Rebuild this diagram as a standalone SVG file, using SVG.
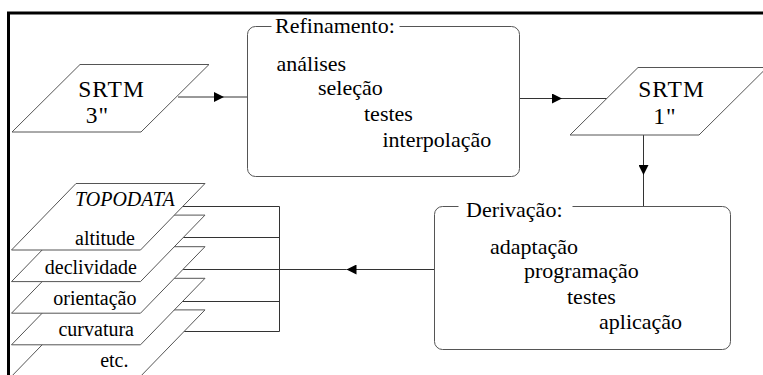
<svg xmlns="http://www.w3.org/2000/svg" width="763" height="375" viewBox="0 0 763 375">
  <style>
    .shape { fill: #ffffff; stroke: #555555; stroke-width: 1; }
    .box { fill: none; stroke: #555555; stroke-width: 1; }
    .conn { fill: none; stroke: #333333; stroke-width: 1; marker-mid: url(#arrow); }
    .line { fill: none; stroke: #333333; stroke-width: 1; }
    text { font-family: "Liberation Serif", "Times New Roman", serif; fill: #000000; }
    .big { font-size: 23.5px; letter-spacing: 1px; }
    .lbl { font-size: 22px; }
    .lay { font-size: 20px; }
    .frame { fill: none; stroke: #000000; stroke-width: 3; }
  </style>
  <defs>
    <marker id="arrow" viewBox="0 0 10 10" refX="10" refY="5" markerWidth="11" markerHeight="10" markerUnits="userSpaceOnUse" orient="auto">
      <path d="M0,0 L10,5 L0,10 z" fill="#000000"/>
    </marker>
  </defs>
  <rect x="0" y="0" width="763" height="375" fill="#ffffff"/>
  <path class="frame" d="M8.5 375 V13 H763"/>

  <g id="connectors">
    <path class="conn" d="M178 97 L224 97 L247.5 97"/>
    <path class="conn" d="M519.5 98.5 L562 98.5 L607 98.5"/>
    <path class="conn" d="M643.5 135 L643.5 175 L643.5 206.5"/>
    <path class="conn" d="M434.5 269.5 L346.5 269.5 L183 269.5"/>
    <path class="line" d="M183 206.5 H279.5 V331.5 H183"/>
    <path class="line" d="M183 237.5 H279.5"/>
    <path class="line" d="M183 301.5 H279.5"/>
  </g>

  <g id="srtm3">
    <polygon class="shape" points="80,64.5 209,64.5 141,132 12,132"/>
    <text class="big" x="111.5" y="96.5" text-anchor="middle">SRTM</text>
    <text class="big" x="97.5" y="123" text-anchor="middle">3"</text>
  </g>

  <g id="refinamento">
    <path class="box" d="M271.5 26.5 H255.5 A8 8 0 0 0 247.5 34.5 V168.5 A8 8 0 0 0 255.5 176.5 H511.5 A8 8 0 0 0 519.5 168.5 V34.5 A8 8 0 0 0 511.5 26.5 H399.5"/>
    <text class="lbl" x="275" y="33">Refinamento:</text>
    <text class="lbl" x="276.5" y="71">análises</text>
    <text class="lbl" x="318" y="95">seleção</text>
    <text class="lbl" x="364" y="121">testes</text>
    <text class="lbl" x="382.5" y="147">interpolação</text>
  </g>

  <g id="srtm1">
    <polygon class="shape" points="638,67.5 767,67.5 699,135 570,135"/>
    <text class="big" x="671.5" y="96.5" text-anchor="middle">SRTM</text>
    <text class="big" x="665" y="123.5" text-anchor="middle">1"</text>
  </g>

  <g id="derivacao">
    <path class="box" d="M458.5 206.5 H442.5 A8 8 0 0 0 434.5 214.5 V341.5 A8 8 0 0 0 442.5 349.5 H722.5 A8 8 0 0 0 730.5 341.5 V214.5 A8 8 0 0 0 722.5 206.5 H572.5"/>
    <text class="lbl" x="466" y="217">Derivação:</text>
    <text class="lbl" x="490" y="253.5">adaptação</text>
    <text class="lbl" x="524" y="277.5">programação</text>
    <text class="lbl" x="567" y="303.5">testes</text>
    <text class="lbl" x="599" y="328.5">aplicação</text>
  </g>

  <g id="layer-etc">
    <polygon class="shape" points="76,309.9 205,309.9 140.5,376.4 11.5,376.4"/>
    <text class="lay" x="128.5" y="366.5" text-anchor="end">etc.</text>
  </g>
  <g id="layer-curvatura">
    <polygon class="shape" points="76,278.3 205,278.3 140.5,344.8 11.5,344.8"/>
    <text class="lay" x="134" y="336" text-anchor="end">curvatura</text>
  </g>
  <g id="layer-orientacao">
    <polygon class="shape" points="76,246.7 205,246.7 140.5,313.2 11.5,313.2"/>
    <text class="lay" x="136.5" y="304.5" text-anchor="end">orientação</text>
  </g>
  <g id="layer-declividade">
    <polygon class="shape" points="76,215.1 205,215.1 140.5,281.6 11.5,281.6"/>
    <text class="lay" x="137" y="273.5" text-anchor="end">declividade</text>
  </g>
  <g id="layer-topodata">
    <polygon class="shape" points="76,183.5 205,183.5 140.5,250 11.5,250"/>
    <text class="lay" x="75" y="206" font-style="italic">TOPODATA</text>
    <text class="lay" x="135" y="245" text-anchor="end">altitude</text>
  </g>
</svg>
